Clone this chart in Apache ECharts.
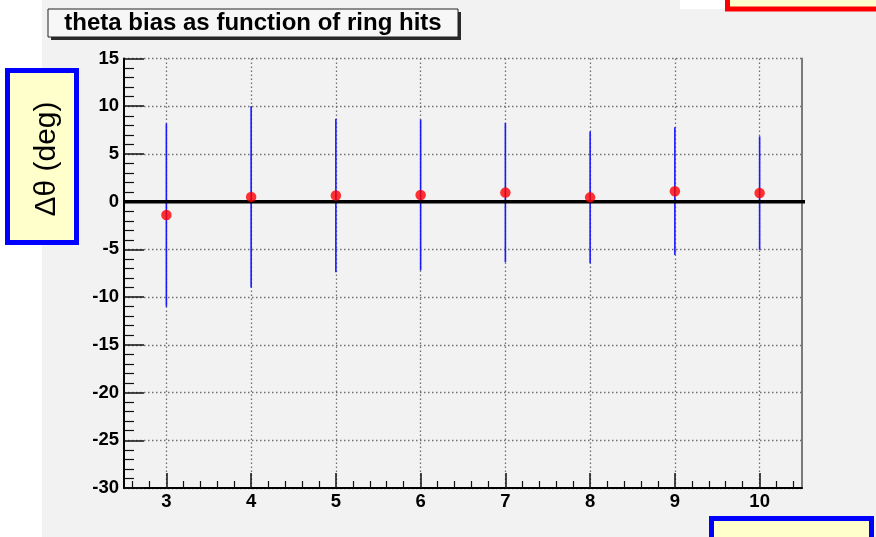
<!DOCTYPE html>
<html>
<head>
<meta charset="utf-8">
<script src="https://cdn.jsdelivr.net/npm/echarts@6/dist/echarts.min.js"></script>
<style>
  html, body { margin: 0; padding: 0; background: #ffffff; }
  #chart {
    width: 876px; height: 537px;
    background: linear-gradient(to right, #ffffff 0, #ffffff 42px, #f2f2f2 42px);
  }
</style>
</head>
<body>
<div id="chart"></div>
<script>
// Number of ring hits (x) and the mean theta bias with its spread (deg)
const ringHits  = [3, 4, 5, 6, 7, 8, 9, 10];
const thetaBias = [-1.4, 0.5, 0.65, 0.7, 0.95, 0.45, 1.1, 0.9];
const biasError = [9.6, 9.5, 8.05, 7.9, 7.3, 6.9, 6.7, 5.95];

// Axis ticks and labels
const xMajorTicks = [3, 4, 5, 6, 7, 8, 9, 10];
const yTickLabels = [-30, -25, -20, -15, -10, -5, 0, 5, 10, 15];
const xRange = [2.5, 10.5];
const yRange = [-30, 15];

// Reference line at zero bias (runs a little past the right frame)
const zeroLine = [[2.5, 0], [10.55, 0]];

// minor x ticks every 0.2 between the majors
const xMinorTicks = [];
for (let i = 13; i <= 52; i++) {
  const v = Math.round(i * 0.2 * 10) / 10;
  if (Math.abs(v - Math.round(v)) > 1e-6) xMinorTicks.push(v);
}

const FONT = '"Liberation Sans", Arial, Helvetica, sans-serif';

const chart = echarts.init(document.getElementById('chart'), null, { renderer: 'canvas' });

const errData = ringHits.map((h, i) => [h, thetaBias[i] - biasError[i], thetaBias[i] + biasError[i]]);
const pointData = ringHits.map((h, i) => [h, thetaBias[i]]);

const gridDots = { color: '#707070', type: [1.5, 2.5], width: 1.3 };

const option = {
  backgroundColor: 'transparent',
  animation: false,
  grid: { left: 124, right: 74, top: 58.5, bottom: 49, containLabel: false },
  xAxis: [
    {
      type: 'value', min: xRange[0], max: xRange[1],
      axisLine: { show: true, onZero: false, lineStyle: { color: '#000', width: 2 } },
      axisTick: { show: true, inside: true, length: 15, customValues: xMajorTicks,
                  lineStyle: { color: '#111', width: 1.5 } },
      axisLabel: { show: true, customValues: xMajorTicks, margin: 4,
                   color: '#000', fontFamily: FONT, fontWeight: 'bold', fontSize: 18.5 },
      splitLine: { show: true, lineStyle: gridDots }
    },
    {
      type: 'value', min: xRange[0], max: xRange[1], position: 'bottom',
      axisLine: { show: false, onZero: false },
      axisTick: { show: true, inside: true, length: 7, customValues: xMinorTicks,
                  lineStyle: { color: '#111', width: 1.2 } },
      axisLabel: { show: false },
      splitLine: { show: false }
    }
  ],
  yAxis: [
    {
      type: 'value', min: yRange[0], max: yRange[1], interval: 5,
      axisLine: { show: true, onZero: false, lineStyle: { color: '#000', width: 2 } },
      axisTick: { show: true, inside: true, length: 20, lineStyle: { color: '#111', width: 1.5 } },
      minorTick: { show: true, splitNumber: 5, length: 10, lineStyle: { color: '#111', width: 1.2 } },
      axisLabel: { show: true, margin: 5, color: '#000', fontFamily: FONT, fontWeight: 'bold', fontSize: 18.5,
                   formatter: v => (yTickLabels.indexOf(v) >= 0 ? String(v) : '') },
      splitLine: { show: true, lineStyle: gridDots }
    },
    {
      type: 'value', min: yRange[0], max: yRange[1], position: 'right',
      axisLine: { show: true, onZero: false, lineStyle: { color: '#7a7a7a', width: 2 } },
      axisTick: { show: false }, axisLabel: { show: false }, splitLine: { show: false }
    }
  ],
  series: [
    {
      // vertical spread bars
      type: 'custom',
      z: 3,
      data: errData,
      renderItem: function (params, api) {
        const x = api.value(0);
        const p1 = api.coord([x, api.value(1)]);
        const p2 = api.coord([x, api.value(2)]);
        return {
          type: 'line',
          shape: { x1: p1[0], y1: p1[1], x2: p2[0], y2: p2[1] },
          style: { stroke: '#1a1aff', lineWidth: 1.6 }
        };
      }
    },
    {
      type: 'line', z: 4, data: zeroLine, symbol: 'none', clip: false, silent: true,
      lineStyle: { color: '#000', width: 3.5 }
    },
    {
      type: 'scatter', z: 5, data: pointData, symbol: 'circle', symbolSize: 10.5,
      itemStyle: { color: '#ff0000' }
    }
  ],
  graphic: [
    // white notch at the top edge
    { type: 'rect', left: 680, top: 0, shape: { width: 47, height: 9 }, style: { fill: '#ffffff' }, z: 1 },
    // title pave with drop shadow
    { type: 'rect', shape: { x: 51, y: 12, width: 410, height: 28 }, style: { fill: '#2a2a2a' }, z: 10 },
    { type: 'rect', shape: { x: 48, y: 9, width: 410, height: 28 },
      style: { fill: '#f7f7f7', stroke: '#222', lineWidth: 1 }, z: 11 },
    { type: 'text', x: 253, y: 23.5, z: 12,
      style: { text: 'theta bias as function of ring hits', fill: '#000', align: 'center', verticalAlign: 'middle',
               font: 'bold 24px ' + FONT } },
    // y-axis title box
    { type: 'rect', shape: { x: 7.5, y: 70.5, width: 69, height: 172 },
      style: { fill: '#ffffcc', stroke: '#0000ff', lineWidth: 5 }, z: 10 },
    { type: 'text', x: 47, y: 159, rotation: Math.PI / 2, z: 12,
      style: { text: 'Δθ (deg)', fill: '#000', align: 'center', verticalAlign: 'middle',
               font: '30px ' + FONT } },
    // top-right box
    { type: 'rect', shape: { x: 727.5, y: -20, width: 200, height: 29 },
      style: { fill: '#ffffcc', stroke: '#ff0000', lineWidth: 5 }, z: 10 },
    // bottom-right box
    { type: 'rect', shape: { x: 711.5, y: 518.5, width: 160, height: 60 },
      style: { fill: '#ffffcc', stroke: '#0000ff', lineWidth: 5 }, z: 10 }
  ]
};

chart.setOption(option);
</script>
</body>
</html>
